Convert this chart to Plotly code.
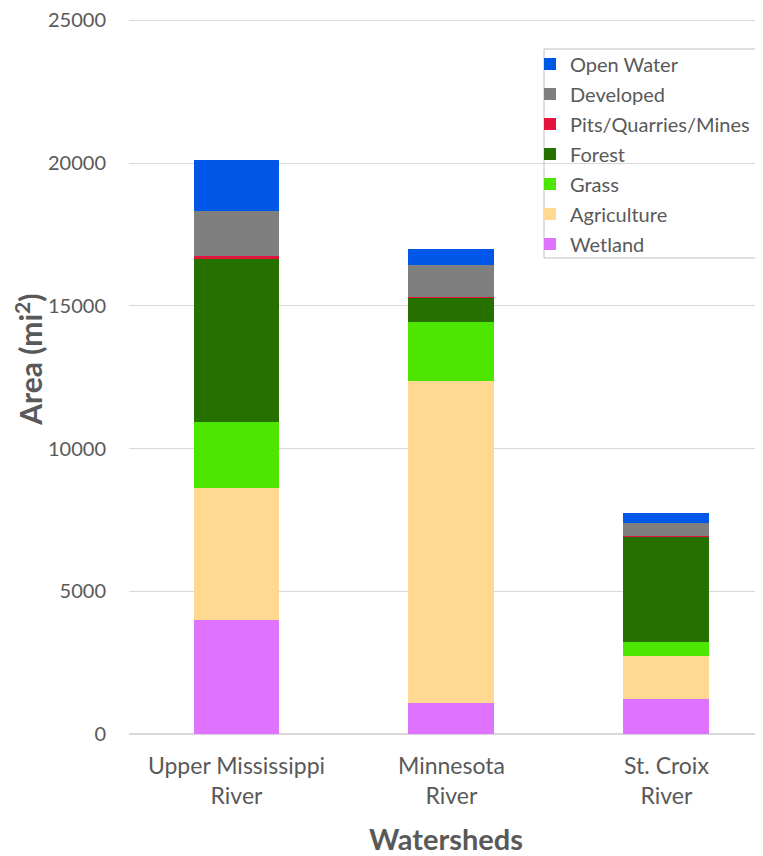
import plotly.graph_objects as go

watersheds = ["Upper Mississippi<br>River", "Minnesota<br>River", "St. Croix<br>River"]

wetland = [4000, 1085, 1230]
agriculture = [4600, 11275, 1500]
grass = [2320, 2070, 490]
forest = [5750, 860, 3710]
pits = [60, 10, 5]
developed = [1580, 1120, 460]
open_water = [1790, 560, 350]

series = [
    ("Wetland", wetland, "#DF73FF"),
    ("Agriculture", agriculture, "#FFD891"),
    ("Grass", grass, "#4CE600"),
    ("Forest", forest, "#267000"),
    ("Pits/Quarries/Mines", pits, "#E0143C"),
    ("Developed", developed, "#7F7F7F"),
    ("Open Water", open_water, "#0057E7"),
]

grey = "#595959"
font = "Lato, 'Open Sans', sans-serif"

fig = go.Figure()
n = len(series)
for i, (name, vals, color) in enumerate(series):
    # top of the stack first in the legend
    fig.add_bar(x=watersheds, y=vals, name=name, marker_color=color, marker_line_width=0,
                legendgroup=name, legendrank=n - i)

# legend frame drawn separately so the text can sit close to the left edge
fig.add_shape(type="rect", xref="paper", yref="paper",
              x0=0.6546, x1=0.9953, y0=0.6648, y1=0.9567,
              line=dict(color="#BFBFBF", width=1), fillcolor="rgba(0,0,0,0)")

# y title as annotation (Excel places it a bit above the plot centre)
fig.add_annotation(text="<b>Area (mi<sup>2</sup>)</b>", xref="paper", yref="paper",
                   x=-0.158, y=0.5223, textangle=-90, showarrow=False,
                   xanchor="center", yanchor="middle",
                   font=dict(size=30, color=grey))

# page body adds an 8px offset, so the figure is drawn 8px smaller
fig.update_layout(
    width=755,
    height=848,
    barmode="stack",
    bargap=0.6,
    plot_bgcolor="white",
    paper_bgcolor="white",
    margin=dict(l=121, r=0, t=10, b=122),
    font=dict(family=font, color=grey, size=17),
    legend=dict(
        x=0.6325, y=0.963, xanchor="left", yanchor="top",
        traceorder="grouped",
        tracegroupgap=1,
        bgcolor="rgba(0,0,0,0)",
        borderwidth=0,
        font=dict(size=20, color=grey),
        itemwidth=30,
    ),
    showlegend=True,
)
fig.update_xaxes(
    range=[-0.5, 2.449],
    automargin=False,
    showgrid=False,
    showline=False,
    tickfont=dict(size=23, color=grey),
    ticklabelstandoff=16,
    title=dict(text="<b>Watersheds</b>", font=dict(size=29, color=grey), standoff=26),
)
fig.update_yaxes(
    range=[0, 25080],
    automargin=False,
    tickvals=[0, 5000, 10000, 15000, 20000, 25000],
    tickformat="d",
    ticklabeloverflow="allow",
    gridcolor="#D9D9D9",
    zerolinecolor="#D9D9D9",
    zerolinewidth=1.5,
    tickfont=dict(size=20, color=grey),
    ticklabelstandoff=22,
)

fig.write_html("out.html")
